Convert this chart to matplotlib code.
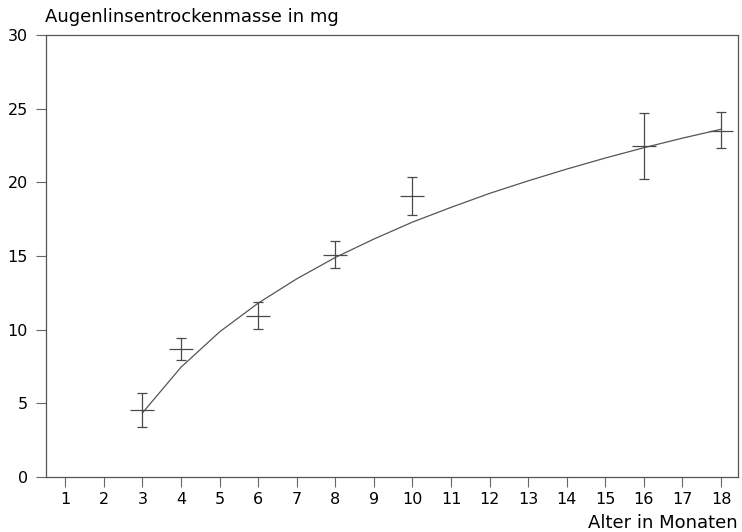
import matplotlib
matplotlib.use("Agg")
from matplotlib import pyplot as plt

alter = [3, 4, 6, 8, 10, 16, 18]
masse = [4.55, 8.7, 10.95, 15.1, 19.05, 22.45, 23.5]
fehler_oben = [5.7, 9.45, 11.85, 16.0, 20.35, 24.7, 24.8]
fehler_unten = [3.4, 7.95, 10.05, 14.2, 17.75, 20.25, 22.3]

# fitted curve
kurve_x = [3, 4, 5, 6, 7, 8, 9, 10, 11, 12, 13, 14, 15, 16, 17, 18]
kurve_y = [4.35, 7.45, 9.85, 11.8, 13.45, 14.9, 16.15, 17.3, 18.3,
           19.25, 20.1, 20.9, 21.65, 22.35, 23.0, 23.6]

x_ticks = list(range(1, 19))
y_ticks = [0, 5, 10, 15, 20, 25, 30]

plt.rcParams["font.family"] = ["DejaVu Sans"]

W, H = 742, 532
fig = plt.figure(figsize=(W / 100, H / 100), dpi=100)
ax = fig.add_axes([46 / W, 1 - 477 / H, (738 - 46) / W, (477 - 35) / H])

line_col = "#4a4a4a"
ax.plot(kurve_x, kurve_y, color="#555555", lw=0.9)

err_lo = [m - u for m, u in zip(masse, fehler_unten)]
err_hi = [o - m for m, o in zip(masse, fehler_oben)]
ax.errorbar(alter, masse, yerr=[err_lo, err_hi], fmt="_", color=line_col,
            ecolor=line_col, elinewidth=0.9, capsize=3.5, capthick=0.9,
            markersize=17, markeredgewidth=0.9)

ax.set_xlim(0.5, 18.44)
ax.set_ylim(0, 30)
ax.set_xticks(x_ticks)
ax.set_yticks(y_ticks)
ax.tick_params(axis="x", direction="out", length=7, width=0.8,
               color="#666666", pad=3.5, labelsize=11.5)
ax.tick_params(axis="y", direction="out", length=7, width=0.8,
               color="#666666", pad=6, labelsize=11.5)
for s in ax.spines.values():
    s.set_color("#555555")
    s.set_linewidth(0.9)

fig.text(45 / W, 1 - 17 / H, "Augenlinsentrockenmasse in mg", fontsize=13,
         ha="left", va="center")
fig.text(738 / W, 1 - 523 / H, "Alter in Monaten", fontsize=13,
         ha="right", va="center")

fig.savefig("out.png", dpi=100)
